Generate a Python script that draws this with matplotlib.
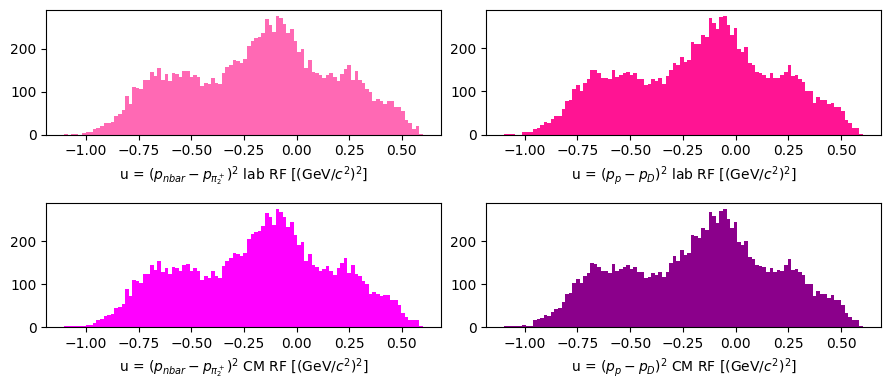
import numpy as np
import matplotlib
matplotlib.use("Agg")
import matplotlib.pyplot as plt

# ---- data: bin counts (100 bins per panel) ----
range_lab_pi = (-1.103, 0.599)
range_lab_pd = (-1.097, 0.603)
range_cm_pi = (-1.103, 0.599)
range_cm_pd = (-1.097, 0.603)

counts_lab_pi = [
    1, 0, 2, 2, 0,
    4, 7, 7, 12, 16, 21, 28, 28, 30, 44, 49, 56, 89, 72, 110, 108, 105, 126, 126,
    145, 135, 154, 128, 140, 124, 142, 140, 133, 147, 147, 133, 138, 133, 112, 121,
    117, 131, 121, 117, 142, 156, 161, 173, 170, 166, 175, 205, 217, 224, 226, 236,
    268, 254, 238, 275, 271, 257, 236, 245, 217, 191, 198, 154, 173, 145, 142, 138,
    131, 138, 142, 133, 124, 140, 152, 161, 126, 147, 126, 121, 105, 100, 77, 82,
    79, 72, 77, 77, 63, 65, 54, 35, 28, 14, 19, 1,
]

counts_lab_pd = [
    1, 2, 2, 0, 0,
    7, 5, 5, 14, 16, 23, 30, 26, 37, 42, 44, 60, 77, 79, 105, 114, 102, 119, 128,
    149, 149, 142, 130, 130, 128, 149, 133, 137, 142, 144, 137, 142, 128, 128, 114,
    116, 128, 123, 130, 116, 135, 149, 165, 160, 179, 167, 172, 214, 209, 209, 230,
    226, 270, 258, 244, 272, 274, 253, 230, 247, 198, 191, 202, 165, 160, 144, 142,
    137, 130, 142, 130, 130, 137, 144, 160, 135, 137, 128, 121, 100, 100, 74, 88,
    79, 79, 70, 74, 63, 63, 54, 33, 26, 16, 16, 1,
]

counts_cm_pi = [
    2, 2, 2, 2, 3,
    4, 6, 6, 11, 18, 20, 27, 29, 32, 46, 48, 55, 90, 74, 111, 109, 104, 125, 125,
    146, 134, 155, 129, 139, 125, 141, 139, 132, 146, 148, 132, 139, 132, 111, 120,
    116, 132, 120, 116, 143, 155, 162, 174, 171, 167, 174, 206, 218, 222, 225, 236,
    267, 256, 239, 276, 269, 256, 234, 246, 215, 192, 199, 155, 171, 146, 141, 132,
    136, 143, 132, 122, 139, 150, 162, 127, 146, 125, 120, 109, 102, 78, 83, 78,
    74, 76, 76, 64, 64, 53, 33, 24, 16, 17, 16, 2,
]

counts_cm_pd = [
    2, 2, 2, 2, 2,
    6, 4, 4, 16, 19, 22, 29, 27, 36, 43, 46, 60, 78, 81, 104, 113, 104, 120, 127,
    150, 148, 141, 132, 132, 127, 148, 132, 136, 141, 146, 136, 141, 129, 129, 116,
    118, 127, 122, 129, 118, 129, 150, 167, 155, 181, 169, 174, 216, 213, 209, 232,
    227, 269, 260, 243, 271, 276, 253, 232, 246, 199, 192, 202, 164, 160, 146, 143,
    141, 129, 139, 129, 134, 132, 146, 160, 134, 136, 129, 122, 102, 102, 74, 85,
    78, 78, 69, 76, 64, 64, 53, 34, 25, 18, 18, 2,
]

labels = [
    r"u = $(p_{nbar} - p_{\pi_2^+})^2$ lab RF [(GeV/$c^2$)$^2$]",
    r"u = $(p_p - p_D)^2$ lab RF [(GeV/$c^2$)$^2$]",
    r"u = $(p_{nbar} - p_{\pi_2^+})^2$ CM RF [(GeV/$c^2$)$^2$]",
    r"u = $(p_p - p_D)^2$ CM RF [(GeV/$c^2$)$^2$]",
]
colors = ["hotpink", "deeppink", "magenta", "darkmagenta"]

panels = [
    (range_lab_pi, counts_lab_pi),
    (range_lab_pd, counts_lab_pd),
    (range_cm_pi, counts_cm_pi),
    (range_cm_pd, counts_cm_pd),
]

fig, axes = plt.subplots(2, 2, figsize=(8.89, 3.9), dpi=100)
fig.subplots_adjust(left=0.052, right=0.9907, top=0.9736, bottom=0.1608,
                    wspace=0.116, hspace=0.55)

for ax, (rng, counts), lab, col in zip(axes.flat, panels, labels, colors):
    counts = np.asarray(counts, dtype=float)
    edges = np.linspace(rng[0], rng[1], len(counts) + 1)
    centers = 0.5 * (edges[:-1] + edges[1:])
    ax.hist(centers, bins=edges, weights=counts, color=col)
    ax.set_xlabel(lab)
    ax.set_xticks([-1.0, -0.75, -0.5, -0.25, 0.0, 0.25, 0.5])
    ax.set_yticks([0, 100, 200])

fig.savefig("out.png", dpi=100)
